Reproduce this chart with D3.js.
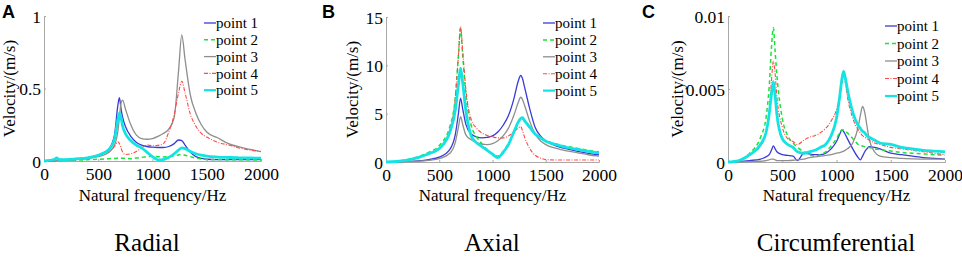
<!DOCTYPE html>
<html>
<head>
<meta charset="utf-8">
<script src="https://cdn.jsdelivr.net/npm/d3@7"></script>
<style>
  body { margin: 0; background: #fff; }
  svg { display: block; }
</style>
</head>
<body>
<div id="chart"></div>
<script>
// ---- data ----
const seriesNames = ["point 1", "point 2", "point 3", "point 4", "point 5"];

// Radial
const freqA = [0,100,117,140,200,300,400,500,600,650,680,695,710,725,750,800,850,900,950,1000,1050,1100,1150,1200,1240,1270,1300,1350,1400,1450,1500,1600,1700,1800,1900,2000];
const radial1 = [0,0.003,0.004,0.004,0.006,0.012,0.022,0.04,0.085,0.18,0.38,0.437,0.36,0.3,0.24,0.17,0.13,0.11,0.1,0.095,0.093,0.093,0.1,0.12,0.145,0.14,0.11,0.06,0.03,0.018,0.012,0.01,0.01,0.01,0.01,0.01];
const radial2 = [0,0.002,0.002,0.003,0.004,0.006,0.009,0.012,0.016,0.018,0.02,0.021,0.02,0.019,0.018,0.016,0.02,0.025,0.03,0.032,0.03,0.028,0.03,0.035,0.042,0.045,0.04,0.03,0.02,0.014,0.011,0.01,0.009,0.008,0.008,0.007];
const radial3 = [0,0.002,0.003,0.003,0.005,0.01,0.017,0.03,0.06,0.11,0.2,0.3,0.4,0.42,0.36,0.25,0.18,0.155,0.15,0.155,0.17,0.19,0.22,0.3,0.62,0.87,0.7,0.45,0.33,0.25,0.2,0.16,0.12,0.097,0.08,0.065];
const radial4 = [0,0.012,0.022,0.012,0.012,0.018,0.025,0.04,0.07,0.1,0.133,0.12,0.09,0.06,0.045,0.05,0.065,0.09,0.11,0.105,0.108,0.12,0.2,0.32,0.47,0.55,0.47,0.32,0.24,0.19,0.165,0.13,0.11,0.09,0.075,0.065];
const radial5 = [0,0.012,0.022,0.01,0.01,0.015,0.022,0.04,0.08,0.15,0.28,0.33,0.3,0.24,0.19,0.14,0.11,0.09,0.06,0.03,0.008,0.01,0.025,0.05,0.075,0.09,0.085,0.065,0.05,0.04,0.033,0.027,0.024,0.022,0.021,0.02];

// Axial
const freqB = [0,100,200,300,400,500,600,650,680,700,720,750,800,850,900,950,1000,1050,1100,1150,1200,1240,1265,1280,1300,1350,1400,1450,1500,1600,1700,1800,1900,2000];
const axial1 = [0,0.02,0.06,0.12,0.25,0.5,1.3,2.8,5.0,6.6,5.5,3.9,2.9,2.6,2.5,2.55,2.7,3.1,3.8,4.8,6.5,8.3,8.95,8.7,7.8,5.5,3.6,2.7,2.2,1.65,1.35,1.1,0.9,0.75];
const axial2 = [0,0.06,0.25,0.55,1.0,1.7,3.7,6.6,11,13.8,11,7,3.8,2.6,1.9,1.3,0.85,0.6,1.1,1.9,3.0,4.0,4.5,4.5,4.2,3.5,2.9,2.5,2.2,1.85,1.6,1.4,1.2,1.05];
const axial3 = [0,0.01,0.04,0.08,0.17,0.35,0.9,2.0,3.6,4.7,3.9,2.8,2.3,2.0,1.85,1.8,1.9,2.2,2.7,3.5,4.8,6.1,6.7,6.5,5.9,4.2,2.9,2.2,1.8,1.4,1.15,0.95,0.75,0.6];
const axial4 = [0,0.05,0.2,0.45,0.8,1.4,3.4,6.5,11,14,11.5,7.5,4.4,3.5,3.0,2.75,2.6,2.5,2.5,2.7,3.1,3.5,3.65,3.3,2.6,1.4,0.7,0.4,0.25,0.2,0.2,0.2,0.2,0.2];
const axial5 = [0,0.05,0.2,0.45,0.85,1.4,3.1,5.3,8,9.7,8.2,5.3,2.7,2.0,1.6,1.2,0.8,0.45,1.0,1.8,3.1,4.1,4.5,4.6,4.3,3.6,2.9,2.5,2.15,1.8,1.5,1.3,1.1,0.95];

// Circumferential
const freqC = [0,100,200,300,350,380,400,418,435,450,500,550,600,640,700,750,800,850,900,950,1000,1030,1050,1065,1080,1100,1150,1200,1220,1240,1260,1280,1300,1350,1400,1500,1600,1700,1800,1900,2000];
const circ1 = [0,0.00003,0.0001,0.0002,0.00035,0.0005,0.0008,0.0011,0.0009,0.0007,0.0005,0.00045,0.0004,0.0001,0.0006,0.00055,0.0005,0.0005,0.0006,0.0009,0.0014,0.0019,0.0022,0.0021,0.0019,0.0016,0.0009,0.0003,0.00015,0.0004,0.0007,0.0009,0.00105,0.001,0.0009,0.0006,0.0005,0.0004,0.0003,0.00025,0.0002];
const circ2 = [0,0.0001,0.0006,0.0017,0.003,0.0052,0.0078,0.0092,0.0075,0.006,0.003,0.0018,0.0013,0.001,0.0007,0.0005,0.0004,0.0005,0.0007,0.0011,0.0016,0.002,0.0022,0.0022,0.0021,0.002,0.0016,0.0012,0.0011,0.0011,0.00105,0.001,0.001,0.0009,0.00085,0.00075,0.00065,0.0006,0.00055,0.0005,0.00046];
const circ3 = [0,0,0.00003,0.00005,0.0001,0.00015,0.0002,0.0002,0.00015,0.0001,0.0001,0.0001,0.00012,0.00015,0.0002,0.0003,0.00035,0.0004,0.00045,0.0005,0.0006,0.00065,0.0007,0.00075,0.0008,0.0009,0.0013,0.0024,0.0032,0.0038,0.0034,0.0025,0.0016,0.0007,0.0004,0.0003,0.00025,0.00022,0.0002,0.0002,0.0002];
const circ4 = [0,0.0001,0.0005,0.0011,0.002,0.0035,0.0055,0.0069,0.006,0.0045,0.0024,0.0016,0.0014,0.0012,0.0015,0.0017,0.0018,0.002,0.0023,0.0028,0.0036,0.0045,0.0054,0.006,0.0055,0.0045,0.003,0.0022,0.002,0.0018,0.0017,0.0016,0.0015,0.0013,0.0012,0.001,0.0009,0.0008,0.0007,0.0006,0.0005];
const circ5 = [0,0.0001,0.0005,0.0012,0.002,0.0033,0.0046,0.0055,0.0045,0.0033,0.0016,0.0012,0.001,0.0007,0.0006,0.0007,0.0008,0.001,0.0012,0.0018,0.003,0.0045,0.0057,0.0062,0.0058,0.005,0.0034,0.0025,0.0023,0.0021,0.002,0.0018,0.0017,0.0015,0.0013,0.0012,0.001,0.0009,0.0008,0.00075,0.0007];

const xTicks = [0, 500, 1000, 1500, 2000];
const yTicksA = [0, 0.5, 1];
const yTicksB = [0, 5, 10, 15];
const yTicksC = [0, 0.005, 0.01];

// ---- styling ----
const SERIF = "'Liberation Serif', 'Times New Roman', Times, serif";
const lineStyles = [
  { color: "#3a3ad8", width: 1.3, dash: null },
  { color: "#19e33a", width: 1.5, dash: "4,3" },
  { color: "#8e8e8e", width: 1.3, dash: null },
  { color: "#ff4a4a", width: 1.1, dash: "4,1.5,1,1.5" },
  { color: "#14e3e3", width: 2.8, dash: null }
];

const panels = [
  { letter: "A", title: "Radial", freq: freqA, series: [radial1, radial2, radial3, radial4, radial5],
    yMax: 1, yTicks: yTicksA, x0: 44, x1: 261, yTop: 16, yBot: 161, ylabX: 15,
    legX: 204, legY: 23, legDy: 16.8, titleX: 147 },
  { letter: "B", title: "Axial", freq: freqB, series: [axial1, axial2, axial3, axial4, axial5],
    yMax: 15, yTicks: yTicksB, x0: 386, x1: 599, yTop: 17, yBot: 162, ylabX: 358,
    legX: 543, legY: 23, legDy: 16.9, titleX: 492 },
  { letter: "C", title: "Circumferential", freq: freqC, series: [circ1, circ2, circ3, circ4, circ5],
    yMax: 0.01, yTicks: yTicksC, x0: 728, x1: 945, yTop: 16, yBot: 162, ylabX: 683,
    legX: 885, legY: 26, legDy: 17.5, titleX: 836 }
];

const W = 962, H = 266;
const svg = d3.select("#chart").append("svg")
  .attr("width", W).attr("height", H)
  .attr("font-family", SERIF);
const axisColor = "#a8a8a8";

function serifText(sel, size) {
  return sel.attr("font-family", SERIF).style("font-family", SERIF).style("font-size", size + "px").attr("fill", "#000");
}

panels.forEach((p, pi) => {
  const x = d3.scaleLinear().domain([0, 2000]).range([p.x0, p.x1]);
  const y = d3.scaleLinear().domain([0, p.yMax]).range([p.yBot, p.yTop]);
  const g = svg.append("g");

  // panel letter
  svg.append("text")
    .attr("x", 320 * pi + 2).attr("y", 18)
    .style("font-family", "'Liberation Sans', Arial, sans-serif")
    .style("font-weight", "bold").style("font-size", "18px")
    .text(p.letter);

  // axes (MATLAB style, ticks inward, light gray)
  const xAxis = g.append("g").attr("transform", `translate(0,${p.yBot})`)
    .call(d3.axisBottom(x).tickValues(xTicks).tickSize(-2).tickPadding(7).tickFormat(d3.format("d")));
  const yAxis = g.append("g").attr("transform", `translate(${p.x0},0)`)
    .call(d3.axisLeft(y).tickValues(p.yTicks).tickSize(-2).tickPadding(3).tickFormat(d => String(d)));
  [xAxis, yAxis].forEach(a => {
    a.attr("font-family", SERIF);
    a.select(".domain").attr("stroke", axisColor).attr("stroke-width", 1);
    a.selectAll(".tick line").attr("stroke", axisColor);
    serifText(a.selectAll(".tick text"), 17.5);
  });
  xAxis.selectAll(".tick text").attr("dy", "0.7em");
  yAxis.selectAll(".tick text").attr("dy", "0.35em");

  // curves
  const line = d3.line()
    .x((d, i) => x(p.freq[i]))
    .y(d => y(d))
    .curve(d3.curveMonotoneX);
  p.series.forEach((vals, si) => {
    const st = lineStyles[si];
    g.append("path")
      .datum(vals)
      .attr("fill", "none")
      .attr("stroke", st.color)
      .attr("stroke-width", st.width)
      .attr("stroke-dasharray", st.dash)
      .attr("stroke-linejoin", "round")
      .attr("d", line);
  });

  // legend
  const leg = g.append("g");
  seriesNames.forEach((name, si) => {
    const st = lineStyles[si];
    const ly = p.legY + si * p.legDy;
    leg.append("line")
      .attr("x1", p.legX).attr("x2", p.legX + 12)
      .attr("y1", ly).attr("y2", ly)
      .attr("stroke", st.color)
      .attr("stroke-width", Math.min(st.width, 2.2))
      .attr("stroke-dasharray", st.dash);
    serifText(leg.append("text"), 15)
      .attr("x", p.legX + 12).attr("y", ly)
      .attr("dy", "0.35em")
      .text(name);
  });

  // y label
  serifText(g.append("text"), 17)
    .attr("transform", `translate(${p.ylabX},${(p.yTop + p.yBot) / 2}) rotate(-90)`)
    .attr("text-anchor", "middle")
    .text("Velocity/(m/s)");

  // x label
  serifText(g.append("text"), 17)
    .attr("x", (p.x0 + p.x1) / 2).attr("y", 201)
    .attr("text-anchor", "middle")
    .text("Natural frequency/Hz");

  // caption
  serifText(svg.append("text"), 25)
    .attr("x", p.titleX).attr("y", 251)
    .attr("text-anchor", "middle")
    .text(p.title);
});
</script>
</body>
</html>
